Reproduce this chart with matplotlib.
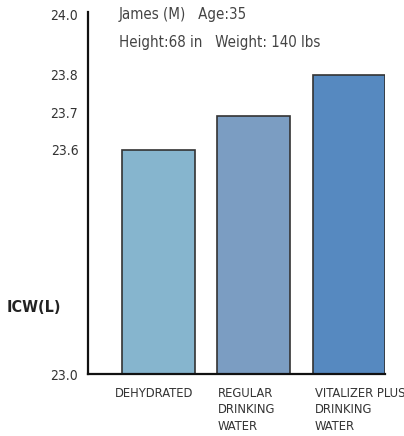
import matplotlib
matplotlib.use("Agg")
import matplotlib.pyplot as plt

categories = ["DEHYDRATED", "REGULAR\nDRINKING\nWATER", "VITALIZER PLUS\nDRINKING\nWATER"]
values = [23.60, 23.69, 23.80]
colors = ["#86B5CE", "#7B9DC2", "#5689C0"]
ytick_vals = [23.0, 23.6, 23.7, 23.8, 23.96]
ytick_labels = ["23.0", "23.6", "23.7", "23.8", "24.0"]
info_lines = ["James (M)   Age:35", "Height:68 in   Weight: 140 lbs"]
ylabel = "ICW(L)"

fam = ["Liberation Sans Narrow", "DejaVu Sans"]
plt.rcParams['font.family'] = fam
plt.rcParams['font.stretch'] = 'condensed'

fig = plt.figure(figsize=(4.04, 4.36), dpi=100)
ax = fig.add_axes([88/404, 1-374/436, (385-88)/404, (374-12)/436])

x = list(range(len(values)))
ax.bar(x, [v - 23.0 for v in values], bottom=23.0, width=0.76, color=colors,
       edgecolor="#333333", linewidth=1.2, zorder=2)

ax.set_xlim(-0.74, 2.38)
ax.set_ylim(23.0, 23.968)
ax.set_yticks(ytick_vals)
ax.set_yticklabels(ytick_labels, fontsize=10, color="#333333")
ax.tick_params(axis='y', length=0, pad=7)
ax.set_xticks([])
for s in ["top", "right"]:
    ax.spines[s].set_visible(False)
for s in ["left", "bottom"]:
    ax.spines[s].set_linewidth(1.6)
    ax.spines[s].set_color("#111111")

offsets = [-0.46, -0.38, -0.36]
for i, lab in enumerate(categories):
    ax.annotate(lab, xy=(i + offsets[i], 23.0), xytext=(0, -9), textcoords="offset points",
                ha="left", va="top", fontsize=9.3, color="#333333", linespacing=1.38,
                annotation_clip=False)

ax.text(119/404, 1-15/436, info_lines[0], transform=fig.transFigure, ha="left", va="center",
        fontsize=10.8, color="#444444")
ax.text(119/404, 1-43/436, info_lines[1], transform=fig.transFigure, ha="left", va="center",
        fontsize=10.8, color="#444444")
fig.text(7/404, 1-307/436, ylabel, ha="left", va="center", fontsize=11.5, fontweight="bold",
         color="#222222")

fig.savefig("out.png", dpi=100)
